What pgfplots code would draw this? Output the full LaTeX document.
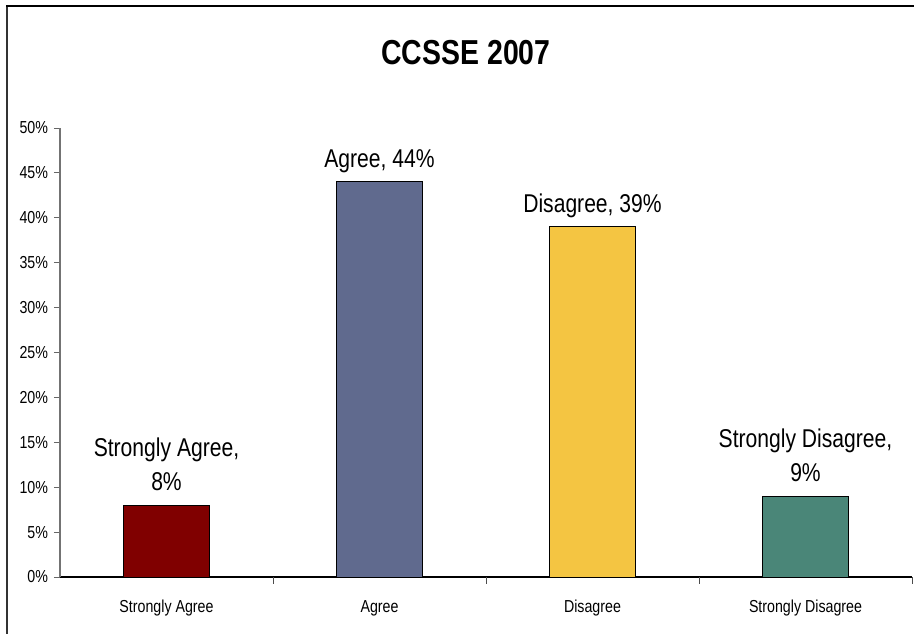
\documentclass[border=0pt]{standalone}
\usepackage{pgfplots}
\pgfplotsset{compat=1.18}
\usepackage{fontspec}
\setmainfont{Liberation Sans}[FakeStretch=0.82]
\definecolor{cRed}{HTML}{800000}
\definecolor{cSlate}{HTML}{606A8E}
\definecolor{cYellow}{HTML}{F4C542}
\definecolor{cTeal}{HTML}{4A8678}
\begin{document}
\begin{tikzpicture}[x=0.75pt,y=0.75pt]
\begin{axis}[
  scale only axis, width=639pt, height=336.75pt,
  xmin=-0.5, xmax=3.5, ymin=0, ymax=50,
  axis x line=bottom, axis y line=left,
  axis line style={-},
  x axis line style={black, line width=0.8pt},
  y axis line style={black!55, line width=0.8pt},
  ytick={0,5,...,50},
  yticklabels={0\%,5\%,10\%,15\%,20\%,25\%,30\%,35\%,40\%,45\%,50\%},
  ytick style={black!60, line width=0.6pt},
  major tick length=4.5pt,
  tick align=outside,
  xtick={0,1,2,3},
  xticklabels={Strongly Agree,Agree,Disagree,Strongly Disagree},
  xtick style={draw=none},
  extra x ticks={0.5,1.5,2.5,3.5},
  extra x tick labels={},
  extra x tick style={xtick style={draw=black!70, line width=0.6pt}, major tick length=5.25pt},
  xticklabel style={font=\fontsize{13}{15}\selectfont, yshift=-9.5pt},
  yticklabel style={font=\fontsize{13}{15}\selectfont, xshift=-1pt},
  ybar, bar width=64.5pt, bar shift=0pt,
  point meta=explicit symbolic,
  nodes near coords,
  every node near coord/.append style={font=\fontsize{19.3}{26}\selectfont, align=center, anchor=south, inner sep=0pt, text depth=0pt, yshift=10.5pt},
  clip=false,
]
\addplot[fill=cRed, draw=black, line width=0.6pt] coordinates {(0,8) [{Strongly Agree,\\8\%}]};
\addplot[fill=cSlate, draw=black, line width=0.6pt] coordinates {(1,44) [{Agree, 44\%}]};
\addplot[fill=cYellow, draw=black, line width=0.6pt] coordinates {(2,39) [{Disagree, 39\%}]};
\addplot[fill=cTeal, draw=black, line width=0.6pt] coordinates {(3,9) [{Strongly Disagree,\\9\%}]};
\coordinate (O) at (rel axis cs:0,0);
\end{axis}
\pgfresetboundingbox
\path (O) ++(-60,-57) coordinate (BL);
\useasboundingbox (BL) rectangle ++(914,634);
\draw[line width=1.5pt,black!80] (BL) ++(7,0) -- ++(0,628);
\draw[line width=1.5pt,black] (BL) ++(6.25,628) -- ++(907.75,0);
\node[font=\fontsize{26}{30}\selectfont\bfseries] at ([shift={(466,581)}]BL) {CCSSE 2007};
\end{tikzpicture}
\end{document}
